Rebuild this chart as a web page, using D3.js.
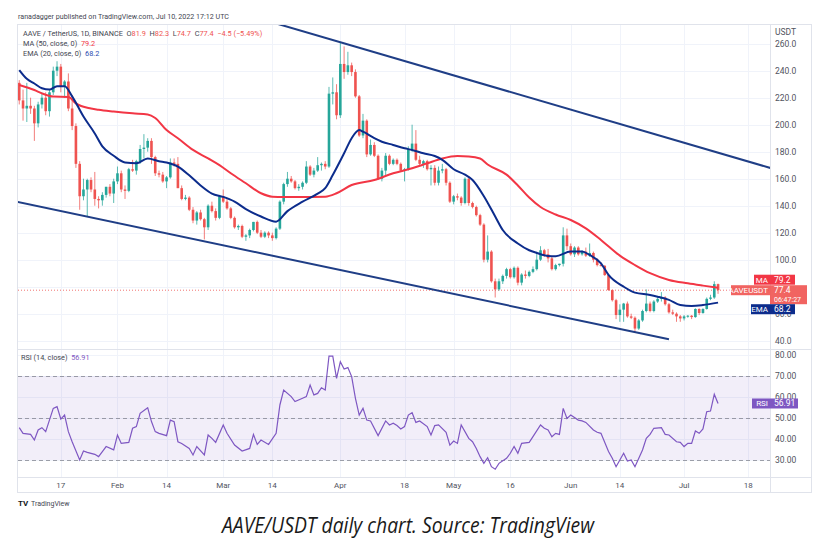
<!DOCTYPE html>
<html><head><meta charset="utf-8">
<script src="https://cdn.jsdelivr.net/npm/d3@7/dist/d3.min.js"></script>
<style>
body{margin:0;background:#fff;}
svg{display:block;font-family:Roboto,"Open Sans",sans-serif;}
</style></head><body>
<svg id="c" width="816" height="552"></svg>
<script>
// ---------- DATA ----------
const candles = [
["2022-01-06",231,233,215,218],["2022-01-07",218,226,203,212],["2022-01-08",212,231,202,214],["2022-01-09",214,220,208,212],
["2022-01-10",212,214,188,201],["2022-01-11",201,217,198,215],["2022-01-12",215,224,212,220],["2022-01-13",220,224,207,210],
["2022-01-14",210,226,206,224],["2022-01-15",224,243,222,240],["2022-01-16",240,247,236,243],["2022-01-17",243,245,224,228],
["2022-01-18",228,233,220,232],["2022-01-19",232,238,210,212],["2022-01-20",212,222,196,199],["2022-01-21",199,201,168,171],
["2022-01-22",171,173,137,147],["2022-01-23",147,160,144,152],["2022-01-24",152,160,132,159],["2022-01-25",159,161,150,152],
["2022-01-26",152,165,140,145],["2022-01-27",145,147,138,144],["2022-01-28",144,150,140,148],["2022-01-29",148,154,146,154],
["2022-01-30",154,156,147,149],["2022-01-31",149,160,142,158],["2022-02-01",158,169,156,164],["2022-02-02",164,166,150,152],
["2022-02-03",152,155,145,151],["2022-02-04",151,168,150,167],["2022-02-05",167,174,165,166],["2022-02-06",166,174,163,173],
["2022-02-07",173,185,171,182],["2022-02-08",182,193,175,183],["2022-02-09",183,190,180,188],["2022-02-10",188,190,171,176],
["2022-02-11",176,177,162,164],["2022-02-12",164,166,161,163],["2022-02-13",163,165,157,158],["2022-02-14",158,162,153,161],
["2022-02-15",161,175,160,172],["2022-02-16",172,175,169,171],["2022-02-17",171,176,153,153],["2022-02-18",153,155,144,145],
["2022-02-19",145,148,144,146],["2022-02-20",146,147,136,137],["2022-02-21",137,139,127,129],["2022-02-22",129,136,126,135],
["2022-02-23",135,137,129,130],["2022-02-24",130,131,115,124],["2022-02-25",124,141,122,140],["2022-02-26",140,143,135,136],
["2022-02-27",136,138,129,131],["2022-02-28",131,148,130,147],["2022-03-01",147,152,142,143],["2022-03-02",143,145,137,138],
["2022-03-03",138,139,130,131],["2022-03-04",131,132,123,124],["2022-03-05",124,126,122,125],["2022-03-06",125,126,116,117],
["2022-03-07",117,119,114,118],["2022-03-08",118,123,116,122],["2022-03-09",122,128,121,128],["2022-03-10",128,129,119,120],
["2022-03-11",120,122,116,117],["2022-03-12",117,121,116,120],["2022-03-13",120,121,116,118],["2022-03-14",118,120,114,116],
["2022-03-15",116,124,115,123],["2022-03-16",123,144,122,143],["2022-03-17",143,157,141,156],["2022-03-18",156,165,154,160],
["2022-03-19",160,162,157,158],["2022-03-20",158,159,152,153],["2022-03-21",153,156,151,154],["2022-03-22",154,158,152,157],
["2022-03-23",157,173,156,169],["2022-03-24",169,170,162,163],["2022-03-25",163,168,161,166],["2022-03-26",166,176,165,170],
["2022-03-27",170,172,166,171],["2022-03-28",171,173,167,169],["2022-03-29",169,228,168,223],["2022-03-30",223,235,215,224],
["2022-03-31",224,230,204,207],["2022-04-01",207,261,205,245],["2022-04-02",245,258,234,239],["2022-04-03",239,254,237,244],
["2022-04-04",244,246,236,239],["2022-04-05",239,241,220,221],["2022-04-06",221,222,191,192],["2022-04-07",192,208,190,203],
["2022-04-08",203,204,176,178],["2022-04-09",178,189,177,185],["2022-04-10",185,187,176,177],["2022-04-11",177,178,159,160],
["2022-04-12",160,168,158,166],["2022-04-13",166,179,162,177],["2022-04-14",177,178,170,171],["2022-04-15",171,175,170,174],
["2022-04-16",174,175,170,171],["2022-04-17",171,172,165,166],["2022-04-18",166,168,158,167],["2022-04-19",167,184,166,182],
["2022-04-20",182,200,180,186],["2022-04-21",186,196,173,174],["2022-04-22",174,177,170,171],["2022-04-23",171,174,168,173],
["2022-04-24",173,174,166,167],["2022-04-25",167,170,155,168],["2022-04-26",168,170,155,157],["2022-04-27",157,169,155,166],
["2022-04-28",166,171,164,167],["2022-04-29",167,168,155,157],["2022-04-30",157,158,142,143],["2022-05-01",143,148,141,147],
["2022-05-02",147,149,144,146],["2022-05-03",146,147,140,142],["2022-05-04",142,161,141,160],["2022-05-05",160,162,140,142],
["2022-05-06",142,143,138,139],["2022-05-07",139,140,132,133],["2022-05-08",133,134,125,126],["2022-05-09",126,127,98,100],
["2022-05-10",100,118,98,106],["2022-05-11",106,107,83,84],["2022-05-12",84,86,72,78],["2022-05-13",78,86,77,84],
["2022-05-14",84,89,82,88],["2022-05-15",88,94,86,93],["2022-05-16",93,94,86,87],["2022-05-17",87,95,86,94],
["2022-05-18",94,95,81,83],["2022-05-19",83,90,81,89],["2022-05-20",89,92,86,88],["2022-05-21",88,92,87,91],
["2022-05-22",91,95,90,93],["2022-05-23",93,106,92,100],["2022-05-24",100,110,99,107],["2022-05-25",107,108,102,104],
["2022-05-26",104,108,98,101],["2022-05-27",101,102,92,93],["2022-05-28",93,97,92,96],["2022-05-29",96,97,95,97],
["2022-05-30",97,124,95,118],["2022-05-31",118,123,107,110],["2022-06-01",110,112,103,104],["2022-06-02",104,110,102,109],
["2022-06-03",109,110,103,104],["2022-06-04",104,107,103,106],["2022-06-05",106,109,102,103],["2022-06-06",103,112,102,105],
["2022-06-07",105,106,98,100],["2022-06-08",100,101,95,96],["2022-06-09",96,98,95,95.5],["2022-06-10",95.5,96,88,88.6],
["2022-06-11",88.6,89,77,77.5],["2022-06-12",77.5,78,69,70],["2022-06-13",70,71,56,59],["2022-06-14",59,67,54,63],
["2022-06-15",63,68,54,67.5],["2022-06-16",67.5,69,57,58],["2022-06-17",58,60,56,57],["2022-06-18",57,58,46,49],
["2022-06-19",49,56,48,55],["2022-06-20",55,63,54,62],["2022-06-21",62,78,61,67.5],["2022-06-22",67.5,69,61,62],
["2022-06-23",62,70,61,69],["2022-06-24",69,72,68,71],["2022-06-25",71,76,69,72],["2022-06-26",72,73,66,67],
["2022-06-27",67,68,60,61],["2022-06-28",61,63,59,60],["2022-06-29",60,61,54,58],["2022-06-30",58,59,54,56.5],
["2022-07-01",56.5,59,55,58],["2022-07-02",58,59,57,58.5],["2022-07-03",58.5,59,56,57.5],["2022-07-04",57.5,64,57,63.5],
["2022-07-05",63.5,64,59,60.5],["2022-07-06",60.5,64,60,63.5],["2022-07-07",63.5,72,63,71],["2022-07-08",71,74,70,72],
["2022-07-09",72,84,71,81.9],["2022-07-10",81.9,82.3,74.7,77.4]
];
const ma50 = [
["2022-01-06",229.4],["2022-01-10",225.7],["2022-01-12",223.2],["2022-01-15",220.8],["2022-01-19",220.5],["2022-01-21",215.8],
["2022-01-25",212],["2022-01-27",211],["2022-01-31",209.7],["2022-02-05",208.4],["2022-02-09",207.6],["2022-02-11",205],
["2022-02-14",196],["2022-02-17",190],["2022-02-21",181.3],["2022-02-25",175],["2022-02-28",170],["2022-03-03",164],
["2022-03-07",156.6],["2022-03-11",149.2],["2022-03-14",146.7],["2022-03-17",146.5],["2022-03-21",146.5],["2022-03-28",146.7],
["2022-03-31",149.2],["2022-04-04",155.3],["2022-04-10",159],["2022-04-15",164],["2022-04-20",167.7],["2022-04-24",171.4],
["2022-04-28",175],["2022-05-02",176.8],["2022-05-05",176.5],["2022-05-08",175],["2022-05-10",170.5],["2022-05-15",163],
["2022-05-18",155],["2022-05-21",146],["2022-05-24",139],["2022-05-28",133.5],["2022-06-01",129.4],["2022-06-05",123.2],
["2022-06-09",114.6],["2022-06-14",103],["2022-06-18",96],["2022-06-22",90],["2022-06-27",85],["2022-07-02",82.5],
["2022-07-06",80.8],["2022-07-10",79.2]
];
const ema20 = [
["2022-01-06",240.5],["2022-01-08",234],["2022-01-10",230.5],["2022-01-12",227],["2022-01-14",226],["2022-01-16",228.5],
["2022-01-18",228.5],["2022-01-20",221],["2022-01-23",206],["2022-01-26",193.5],["2022-01-28",184],["2022-01-31",177],
["2022-02-03",172],["2022-02-06",171.5],["2022-02-09",175],["2022-02-12",173],["2022-02-14",172],["2022-02-17",169],
["2022-02-20",162.5],["2022-02-23",155],["2022-02-26",149],["2022-03-01",146.5],["2022-03-04",143],["2022-03-07",137.5],
["2022-03-11",132],["2022-03-15",128.2],["2022-03-18",136],["2022-03-22",143],["2022-03-26",149],["2022-03-28",153],
["2022-03-30",162.7],["2022-04-02",178.8],["2022-04-04",190],["2022-04-06",196],["2022-04-07",194.8],["2022-04-10",190],
["2022-04-12",187.4],["2022-04-15",185],["2022-04-18",182.5],["2022-04-20",181.3],["2022-04-23",178.8],["2022-04-26",176.8],
["2022-04-28",174],["2022-05-01",167],["2022-05-04",163],["2022-05-06",159],["2022-05-09",147],["2022-05-12",132],
["2022-05-14",122],["2022-05-18",112],["2022-05-21",107],["2022-05-23",105],["2022-05-26",102.7],["2022-05-28",102.5],
["2022-06-01",106],["2022-06-04",106],["2022-06-06",103.5],["2022-06-09",97.3],["2022-06-11",88.7],["2022-06-15",80],
["2022-06-18",75.6],["2022-06-22",73.9],["2022-06-24",72.6],["2022-06-27",70.2],["2022-06-30",66.4],["2022-07-03",65.7],
["2022-07-06",66.4],["2022-07-10",68.2]
];
const rsi14 = [
["2022-01-06",45.4],["2022-01-07",42.7],["2022-01-09",42.2],["2022-01-10",39.5],["2022-01-11",44.3],["2022-01-12",45.4],
["2022-01-13",43.5],["2022-01-15",54.6],["2022-01-16",55.4],["2022-01-17",49.5],["2022-01-18",51.4],["2022-01-19",43.5],
["2022-01-20",38.7],["2022-01-22",30],["2022-01-23",34.3],["2022-01-24",33.6],["2022-01-26",32.7],["2022-01-27",31.6],
["2022-01-28",34],["2022-01-29",36.4],["2022-01-31",34.8],["2022-02-01",41.9],["2022-02-02",37.9],["2022-02-04",38.4],
["2022-02-05",45.1],["2022-02-06",45.9],["2022-02-07",52.2],["2022-02-09",54.9],["2022-02-10",48.3],["2022-02-11",43.5],
["2022-02-12",42.7],["2022-02-14",41.6],["2022-02-15",49],["2022-02-16",48.3],["2022-02-17",38.7],["2022-02-18",37.9],
["2022-02-20",35.5],["2022-02-21",32.4],["2022-02-22",36.4],["2022-02-24",32.4],["2022-02-25",41.9],["2022-02-26",40.3],
["2022-02-27",38.4],["2022-03-01",46.7],["2022-03-02",42.7],["2022-03-04",37.1],["2022-03-06",34.3],["2022-03-08",35.5],
["2022-03-09",42.2],["2022-03-10",37.4],["2022-03-11",39.5],["2022-03-13",37.4],["2022-03-15",42.7],["2022-03-16",56.2],
["2022-03-17",63.3],["2022-03-19",60.2],["2022-03-20",57.8],["2022-03-22",59.4],["2022-03-23",60.2],["2022-03-24",65.7],
["2022-03-25",61],["2022-03-26",61.7],["2022-03-27",64.4],["2022-03-28",63.3],["2022-03-29",79.5],["2022-03-30",79.5],
["2022-03-31",68.9],["2022-04-01",76.8],["2022-04-02",73.3],["2022-04-03",74],["2022-04-04",69.7],["2022-04-05",59.4],
["2022-04-06",51.4],["2022-04-07",54.6],["2022-04-08",49],["2022-04-09",48.6],["2022-04-11",41.6],["2022-04-13",48.6],
["2022-04-14",46.7],["2022-04-15",47.5],["2022-04-16",46.4],["2022-04-17",44.8],["2022-04-18",45.9],["2022-04-19",51.4],
["2022-04-20",52.5],["2022-04-21",47.9],["2022-04-22",48.6],["2022-04-24",45.9],["2022-04-25",41.9],["2022-04-26",46.4],
["2022-04-27",46.7],["2022-04-29",43.2],["2022-04-30",37.1],["2022-05-01",39],["2022-05-02",37.9],["2022-05-03",46.7],
["2022-05-05",40.3],["2022-05-06",38.7],["2022-05-07",35.5],["2022-05-08",31.6],["2022-05-09",28.4],["2022-05-10",31.1],
["2022-05-11",26.8],["2022-05-12",25.6],["2022-05-13",28.4],["2022-05-15",30.8],["2022-05-16",33.2],["2022-05-17",36.4],
["2022-05-18",33.2],["2022-05-19",37.9],["2022-05-21",38.4],["2022-05-22",41.1],["2022-05-24",46.7],["2022-05-25",45.1],
["2022-05-26",44.3],["2022-05-27",41.1],["2022-05-28",42.7],["2022-05-29",42.2],["2022-05-30",54.6],["2022-05-31",49.8],
["2022-06-01",51.4],["2022-06-03",49],["2022-06-04",48.6],["2022-06-05",47.9],["2022-06-07",44.3],["2022-06-08",43.2],
["2022-06-09",42.7],["2022-06-11",34],["2022-06-12",30.8],["2022-06-13",26.8],["2022-06-14",30],["2022-06-15",33.2],
["2022-06-16",29.5],["2022-06-17",30],["2022-06-18",26.8],["2022-06-20",34.8],["2022-06-21",40.3],["2022-06-22",42.2],
["2022-06-23",45.1],["2022-06-25",45.4],["2022-06-26",42.2],["2022-06-27",41.9],["2022-06-29",38.7],["2022-06-30",38.4],
["2022-07-01",36.4],["2022-07-02",37.9],["2022-07-03",37.9],["2022-07-04",43.8],["2022-07-05",42.7],["2022-07-06",44.8],
["2022-07-07",53],["2022-07-08",53.3],["2022-07-09",61.3],["2022-07-10",56.91]
];
const upperChannel = [["2022-03-15",275],["2022-07-24",167.8]];
const lowerChannel = [["2022-01-05",143.1],["2022-06-27",41]];
const timeTicks = ["2022-01-17","2022-02-01","2022-02-14","2022-03-01","2022-03-14","2022-04-01","2022-04-18","2022-05-01","2022-05-16","2022-06-01","2022-06-14","2022-07-01","2022-07-18"];
const timeTickLabels = ["17","Feb","14","Mar","14","Apr","18","May","16","Jun","14","Jul","18"];
const priceTicks = [40,60,80,100,120,140,160,180,200,220,240,260];
const priceTickHidden = [80]; // covered by the last-price tag in the reference
const rsiTicks = [30,40,50,60,70,80];
const rsiLevels = [30,50,70];
const lastPrice = 77.4, lastMA = 79.2, lastEMA = 68.2, lastRSI = 56.91;
const countdown = "06:47:27";
const headerText = "ranadagger published on TradingView.com, Jul 10, 2022 17:12 UTC";
const legendOHLC = [["O","81.9"],["H","82.3"],["L","74.7"],["C","77.4"]];
const legendChange = "\u22124.5 (\u22125.49%)";
const caption = "AAVE/USDT daily chart. Source: TradingView";

// ---------- LAYOUT ----------
const L = 18, R = 770, FR = 811, PT = 25, PB = 349, RT = 349, RB = 477, AB = 492;
const UP = "#26a69a", DN = "#ef5350", MAC = "#f23645", EMAC = "#0c2c8c", CH = "#1f3e86", RSIC = "#7e57c2";
const grid = "#f0f3fa", border = "#e0e3eb", txt = "#50535e";
const parse = d3.utcParse("%Y-%m-%d");

const svg = d3.select("#c");
const x = d3.scaleUtc().domain([new Date(Date.UTC(2022,0,5,16)), new Date(Date.UTC(2022,6,23,18))]).range([L, R]);
const y = d3.scaleLinear().domain([33.85, 273.85]).range([PB, PT]);
const yr = d3.scaleLinear().domain([21.9, 82.86]).range([RB, RT]);

const defs = svg.append("defs");
defs.append("clipPath").attr("id","cp").append("rect").attr("x",L).attr("y",PT).attr("width",R-L).attr("height",PB-PT);
defs.append("clipPath").attr("id","cr").append("rect").attr("x",L).attr("y",RT).attr("width",R-L).attr("height",RB-RT);

// grid
const tdates = timeTicks.map(parse);
svg.append("g").selectAll("line").data(tdates).join("line")
  .attr("x1",d=>Math.round(x(d))+0.5).attr("x2",d=>Math.round(x(d))+0.5).attr("y1",PT).attr("y2",RB)
  .attr("stroke",grid).attr("stroke-width",1);
svg.append("g").selectAll("line").data(priceTicks).join("line")
  .attr("x1",L).attr("x2",R).attr("y1",d=>Math.round(y(d))+0.5).attr("y2",d=>Math.round(y(d))+0.5)
  .attr("stroke",grid);
svg.append("g").selectAll("line").data(rsiTicks).join("line")
  .attr("x1",L).attr("x2",R).attr("y1",d=>Math.round(yr(d))+0.5).attr("y2",d=>Math.round(yr(d))+0.5)
  .attr("stroke",grid);

// frame
const fr = svg.append("g").attr("stroke",border).attr("fill","none");
fr.append("rect").attr("x",L-0.5).attr("y",PT-0.5).attr("width",FR-L+1).attr("height",AB-PT+1);
fr.append("line").attr("x1",R+0.5).attr("x2",R+0.5).attr("y1",PT).attr("y2",AB);
fr.append("line").attr("x1",L).attr("x2",FR).attr("y1",PB+0.5).attr("y2",PB+0.5);
fr.append("line").attr("x1",L).attr("x2",FR).attr("y1",RB+0.5).attr("y2",RB+0.5);

// price pane
const pp = svg.append("g").attr("clip-path","url(#cp)");
pp.append("line").attr("x1",L).attr("x2",R).attr("y1",y(lastPrice)).attr("y2",y(lastPrice))
  .attr("stroke",DN).attr("stroke-width",1).attr("stroke-dasharray","1,2").attr("opacity",0.8);

const cd = candles.map(r=>({d:parse(r[0]),o:r[1],h:r[2],l:r[3],c:r[4]}));
const cg = pp.append("g");
cg.selectAll("line").data(cd).join("line")
  .attr("x1",d=>x(d.d)).attr("x2",d=>x(d.d)).attr("y1",d=>y(d.h)).attr("y2",d=>y(d.l))
  .attr("stroke",d=>d.c>=d.o?UP:DN).attr("stroke-width",1).attr("opacity",0.75);
cg.selectAll("rect").data(cd).join("rect")
  .attr("x",d=>x(d.d)-1.3).attr("width",2.6)
  .attr("y",d=>y(Math.max(d.o,d.c))).attr("height",d=>Math.max(1,Math.abs(y(d.o)-y(d.c))))
  .attr("fill",d=>d.c>=d.o?UP:DN);

const line = d3.line().x(d=>x(parse(d[0]))).y(d=>y(d[1])).curve(d3.curveMonotoneX);
pp.append("path").attr("d",line(ma50)).attr("fill","none").attr("stroke",MAC).attr("stroke-width",2);
pp.append("path").attr("d",line(ema20)).attr("fill","none").attr("stroke",EMAC).attr("stroke-width",2);
const sline = d3.line().x(d=>x(parse(d[0]))).y(d=>y(d[1]));
pp.append("path").attr("d",sline(upperChannel)).attr("stroke",CH).attr("stroke-width",2).attr("fill","none");
pp.append("path").attr("d",sline(lowerChannel)).attr("stroke",CH).attr("stroke-width",2).attr("fill","none");

// RSI pane
const rp = svg.append("g").attr("clip-path","url(#cr)");
rp.append("rect").attr("x",L).attr("width",R-L).attr("y",yr(70)).attr("height",yr(30)-yr(70))
  .attr("fill",RSIC).attr("opacity",0.1);
rp.selectAll("line.lv").data(rsiLevels).join("line").attr("class","lv")
  .attr("x1",L).attr("x2",R).attr("y1",d=>Math.round(yr(d))+0.5).attr("y2",d=>Math.round(yr(d))+0.5)
  .attr("stroke","#787b86").attr("stroke-dasharray","4,3").attr("opacity",0.7);
const rline = d3.line().x(d=>x(parse(d[0]))).y(d=>yr(d[1]));
rp.append("path").attr("d",rline(rsi14)).attr("fill","none").attr("stroke",RSIC).attr("stroke-width",1.2);

// axes labels
const ax = svg.append("g").attr("font-size",8.5).attr("fill",txt);
ax.selectAll("text.p").data(priceTicks.filter(v=>!priceTickHidden.includes(v))).join("text").attr("class","p")
  .attr("x",775).attr("y",d=>y(d)+3).text(d=>d.toFixed(1));
ax.append("text").attr("x",775).attr("y",35).text("USDT");
ax.selectAll("text.r").data(rsiTicks).join("text").attr("class","r")
  .attr("x",775).attr("y",d=>yr(d)+3).text(d=>d.toFixed(2));
ax.selectAll("text.t").data(tdates).join("text").attr("class","t")
  .attr("x",d=>x(d)).attr("y",488).attr("text-anchor","middle").attr("font-size",8).text((d,i)=>timeTickLabels[i]);

// price-axis tags
function tag(g, xl, yc, w, h, fill, op){
  g.append("rect").attr("x",xl).attr("y",yc-h/2).attr("width",w).attr("height",h).attr("fill",fill).attr("opacity",op||1);
}
const lb = svg.append("g").attr("font-size",8.5).attr("fill","#fff");
const yP = y(lastPrice);
tag(lb, 731, yP, 39, 10, DN, 0.9);
tag(lb, 770, yP+4.5, 37, 19, DN, 0.9);
lb.append("text").attr("x",768).attr("y",yP+3).attr("text-anchor","end").attr("font-size",8).text("AAVEUSDT");
lb.append("text").attr("x",774).attr("y",yP+3).text(lastPrice.toFixed(1));
lb.append("text").attr("x",774).attr("y",yP+12).attr("font-size",7).text(countdown);
const yM = yP-10.5;
tag(lb, 754, yM, 16, 10, MAC);
tag(lb, 770, yM, 25, 10, MAC);
lb.append("text").attr("x",768).attr("y",yM+3).attr("text-anchor","end").attr("font-size",8).text("MA");
lb.append("text").attr("x",774).attr("y",yM+3).text(lastMA.toFixed(1));
const yE = yP+19;
tag(lb, 751, yE, 19, 10, EMAC);
tag(lb, 770, yE, 25, 10, EMAC);
lb.append("text").attr("x",768).attr("y",yE+3).attr("text-anchor","end").attr("font-size",8).text("EMA");
lb.append("text").attr("x",774).attr("y",yE+3).text(lastEMA.toFixed(1));
const yR = yr(lastRSI);
tag(lb, 752, yR, 18, 10, RSIC);
tag(lb, 770, yR, 28, 10, RSIC);
lb.append("text").attr("x",768).attr("y",yR+3).attr("text-anchor","end").attr("font-size",8).text("RSI");
lb.append("text").attr("x",774).attr("y",yR+3).text(lastRSI.toFixed(2));

// header & legends
svg.append("text").attr("x",18).attr("y",19).attr("font-size",7.6).attr("fill","#434651")
  .attr("textLength",211).attr("lengthAdjust","spacingAndGlyphs").text(headerText);
const lg = svg.append("g").attr("font-size",7.3).attr("fill","#434651");
const t1 = lg.append("text").attr("x",23).attr("y",36);
t1.append("tspan").text("AAVE / TetherUS, 1D, BINANCE");
legendOHLC.forEach(([k,v])=>{
  t1.append("tspan").text("\u2002" + k);
  t1.append("tspan").attr("fill",DN).text(v);
});
t1.append("tspan").attr("fill",DN).text("\u2002" + legendChange);
const t2 = lg.append("text").attr("x",23).attr("y",46);
t2.append("tspan").text("MA (50, close, 0)");
t2.append("tspan").attr("fill",MAC).text("\u2002" + lastMA.toFixed(1));
const t3 = lg.append("text").attr("x",23).attr("y",56);
t3.append("tspan").text("EMA (20, close, 0)");
t3.append("tspan").attr("fill","#2a4bb0").text("\u2002" + lastEMA.toFixed(1));
const t4 = lg.append("text").attr("x",21).attr("y",360).attr("font-size",7.3);
t4.append("tspan").text("RSI (14, close)");
t4.append("tspan").attr("fill",RSIC).text("\u2002" + lastRSI.toFixed(2));

// TradingView mark
const tv = svg.append("g");
tv.append("text").attr("x",18).attr("y",506).attr("font-size",8).attr("font-weight","bold").attr("fill","#131722").text("TV");
tv.append("text").attr("x",31).attr("y",506).attr("font-size",7).attr("fill","#434651").text("TradingView");

// caption
svg.append("text").attr("x",408).attr("y",533).attr("text-anchor","middle")
  .attr("font-family","'Open Sans',sans-serif").attr("font-style","italic").attr("font-size",21)
  .attr("fill","#1a1a1a").attr("textLength",372).attr("lengthAdjust","spacingAndGlyphs").text(caption);
</script>
</body></html>
